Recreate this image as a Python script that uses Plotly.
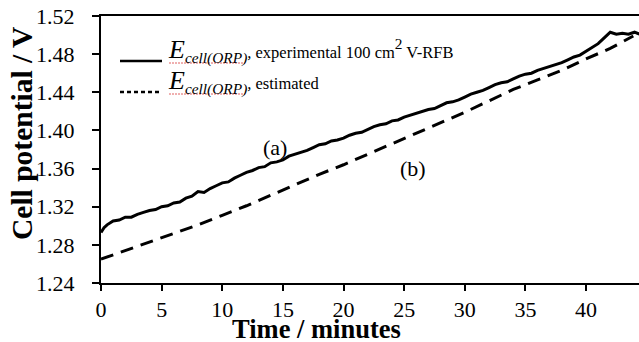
import plotly.graph_objects as go

# Experimental cell potential (a)
t_exp = [0.0, 0.25, 0.5, 1.0, 1.5, 2.0, 2.5, 3.0, 3.5, 4.0, 4.5, 5.0, 5.5, 6.0, 6.5, 7.0, 7.5, 8.0, 8.5, 9.0,
         9.5, 10.0, 10.5, 11.0, 11.5, 12.0, 12.5, 13.0, 13.5, 14.0, 14.5, 15.0, 15.5, 16.0, 16.5, 17.0, 17.5,
         18.0, 18.5, 19.0, 19.5, 20.0, 20.5, 21.0, 21.5, 22.0, 22.5, 23.0, 23.5, 24.0, 24.5, 25.0, 25.5, 26.0,
         26.5, 27.0, 27.5, 28.0, 28.5, 29.0, 29.5, 30.0, 30.5, 31.0, 31.5, 32.0, 32.5, 33.0, 33.5, 34.0, 34.5,
         35.0, 35.5, 36.0, 36.5, 37.0, 37.5, 38.0, 38.5, 39.0, 39.5, 40.0, 40.5, 41.0, 41.5, 42.0, 42.5, 43.0,
         43.5, 44.0, 44.4]
v_exp = [1.293, 1.298, 1.301, 1.305, 1.306, 1.309, 1.309, 1.312, 1.314, 1.316, 1.317, 1.320, 1.321, 1.324,
         1.325, 1.329, 1.331, 1.336, 1.335, 1.339, 1.342, 1.345, 1.346, 1.350, 1.353, 1.356, 1.358, 1.361,
         1.362, 1.366, 1.367, 1.369, 1.373, 1.375, 1.377, 1.379, 1.382, 1.385, 1.386, 1.389, 1.390, 1.392,
         1.395, 1.397, 1.398, 1.401, 1.404, 1.406, 1.407, 1.410, 1.411, 1.414, 1.416, 1.418, 1.420, 1.422,
         1.423, 1.426, 1.429, 1.430, 1.432, 1.435, 1.438, 1.440, 1.442, 1.445, 1.448, 1.450, 1.451, 1.454,
         1.457, 1.459, 1.460, 1.463, 1.465, 1.467, 1.469, 1.471, 1.474, 1.477, 1.479, 1.483, 1.487, 1.491,
         1.497, 1.503, 1.501, 1.502, 1.501, 1.503, 1.501]

# Estimated cell potential (b)
t_est = [0, 2, 4, 6, 8, 10, 12, 14, 16, 18, 20, 22, 24, 26, 28, 30, 32, 34, 36, 38, 40, 42, 43.9]
v_est = [1.265, 1.274, 1.283, 1.292, 1.301, 1.311, 1.321, 1.332, 1.343, 1.354, 1.364, 1.375, 1.386,
         1.397, 1.408, 1.419, 1.431, 1.443, 1.453, 1.463, 1.475, 1.486, 1.499]

x_ticks = [0, 5, 10, 15, 20, 25, 30, 35, 40]
y_ticks = [1.24, 1.28, 1.32, 1.36, 1.40, 1.44, 1.48, 1.52]
y_tick_text = ["1.24", "1.28", "1.32", "1.36", "1.40", "1.44", "1.48", "1.52"]

FONT = "Liberation Serif"

fig = go.Figure()
fig.add_trace(go.Scatter(x=t_exp, y=v_exp, mode="lines",
                         line=dict(color="black", width=3), showlegend=False))
fig.add_trace(go.Scatter(x=t_est, y=v_est, mode="lines",
                         line=dict(color="black", width=3, dash="13px,8px"), showlegend=False))

W, H = 639, 342
L, R, T, B = 101, 0, 16, 59
pw, ph = W - L - R, H - T - B


def px(x):
    return (x - L) / pw


def py(y):
    return (H - B - y) / ph


fig.update_layout(
    width=W, height=H,
    margin=dict(l=L, r=R, t=T, b=B, autoexpand=False),
    paper_bgcolor="white", plot_bgcolor="white",
    font=dict(family=FONT, color="black"),
    xaxis=dict(range=[0, 44.37], tickvals=x_ticks, showgrid=False, zeroline=False, automargin=False,
               showline=True, linecolor="black", linewidth=2, mirror=True,
               ticks="outside", ticklen=6, tickwidth=2, tickcolor="black",
               tickfont=dict(family=FONT, size=22), ticklabelstandoff=0),
    yaxis=dict(range=[1.24, 1.52], tickvals=y_ticks, ticktext=y_tick_text, showgrid=False, automargin=False,
               zeroline=False, showline=True, linecolor="black", linewidth=2,
               ticks="outside", ticklen=7, tickwidth=2, tickcolor="black",
               tickfont=dict(family=FONT, size=22), ticklabelstandoff=13),
)

# axis titles
fig.add_annotation(xref="paper", yref="paper", x=px(316), y=py(329), text="<b>Time / minutes</b>",
                   showarrow=False, xanchor="center", yanchor="middle",
                   font=dict(family=FONT, size=26.5, color="black"))
fig.add_annotation(xref="paper", yref="paper", x=px(22), y=py(134), text="<b>Cell potential / V</b>",
                   showarrow=False, xanchor="center", yanchor="middle", textangle=-90,
                   font=dict(family=FONT, size=29.5, color="black"))

# legend built from shapes + text
fig.add_shape(type="line", xref="paper", yref="paper", x0=px(120), x1=px(162), y0=py(61), y1=py(61),
              line=dict(color="black", width=2.5))
fig.add_shape(type="line", xref="paper", yref="paper", x0=px(120), x1=px(162), y0=py(92), y1=py(92),
              line=dict(color="black", width=2.5, dash="4px,3px"))
# spell-check squiggles under subscripts
for yy in (63, 94):
    fig.add_shape(type="line", xref="paper", yref="paper", x0=px(169), x1=px(245), y0=py(yy), y1=py(yy),
                  line=dict(color="#e06060", width=1, dash="2px,1px"))

leg1 = ("<span style='font-size:26px'><i>E</i></span><span style='font-size:22px'><sub><i>cell(ORP)</i></sub></span>"
        "<i>,</i> experimental 100 cm<span style='font-size:22px'><sup>2</sup></span> V-RFB")
leg2 = ("<span style='font-size:26px'><i>E</i></span><span style='font-size:22px'><sub><i>cell(ORP)</i></sub></span>"
        "<i>,</i> estimated")
fig.add_annotation(xref="paper", yref="paper", x=px(166), y=py(51), text=leg1, showarrow=False,
                   xanchor="left", yanchor="middle", font=dict(family=FONT, size=16.5, color="black"))
fig.add_annotation(xref="paper", yref="paper", x=px(166), y=py(82), text=leg2, showarrow=False,
                   xanchor="left", yanchor="middle", font=dict(family=FONT, size=16.5, color="black"))

fig.add_annotation(xref="paper", yref="paper", x=px(275), y=py(147), text="(a)", showarrow=False,
                   xanchor="center", yanchor="middle", font=dict(family=FONT, size=22, color="black"))
fig.add_annotation(xref="paper", yref="paper", x=px(413), y=py(168), text="(b)", showarrow=False,
                   xanchor="center", yanchor="middle", font=dict(family=FONT, size=22, color="black"))

fig.write_html("out.html", config={"displayModeBar": False},
               post_script="document.body.style.margin='0px';document.body.style.overflow='hidden';")
